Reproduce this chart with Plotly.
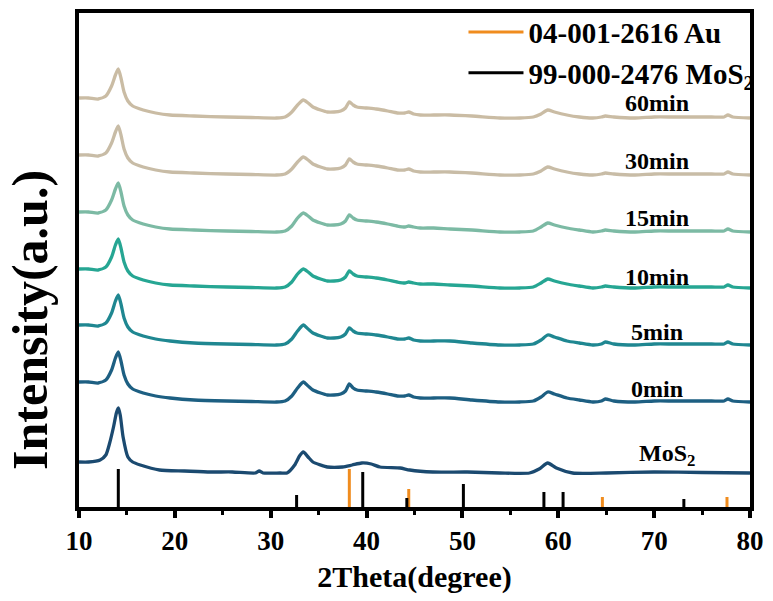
import plotly.graph_objects as go

# 2θ grid for the film samples (degree)
theta_film = [10, 11, 12, 12.8, 13.4, 13.8, 14.1, 14.4, 14.7, 15.1, 15.6, 16.7, 18, 19.5,
              22, 25.4, 28, 30.6, 31.5, 32.2, 32.8, 33.4, 33.9, 34.4, 35.2, 35.9, 36.6,
              37.3, 37.8, 38.2, 38.6, 39.0, 40.0, 41.0, 42.2, 43.2, 44.0, 44.4, 44.9,
              45.6, 47.0, 48.7, 51.0, 53.9, 56.0, 57.4, 58.2, 58.9, 59.6, 60.9, 62.2,
              63.6, 64.5, 64.9, 65.8, 68, 70, 72, 74, 76, 77.3, 77.7, 78.2, 80]

# Intensity above each pattern's own baseline (a.u.)
int_0min = [20, 20, 19, 22, 32, 44, 50, 40, 27, 18, 13, 9, 6, 4,
            2, 1, 0.5, 0, 1, 6, 14, 20, 16, 12, 9, 7, 7,
            8, 11, 18, 14, 12, 11, 10, 8, 6, 6, 7, 5,
            4, 4, 4, 2, 0, 0, 1, 5, 10, 8, 4, 2,
            0, 1, 3, 1, 0, 1, 1, 1, 1, 1, 3, 1, 0]
int_5min = [20, 20, 19, 22, 32, 44, 50, 40, 27, 18, 13, 9, 6, 4,
            2, 1, 0.5, 0, 1, 6, 14, 20, 16, 12, 9, 7, 7,
            8, 11, 17, 14, 12, 11, 10, 8, 6, 6, 7, 5,
            4, 4, 4, 2, 0, 0, 1, 5, 10, 8, 4, 2,
            0, 1, 3, 1, 0, 1, 1, 1, 1, 1, 3, 1, 0]
int_10min = [19, 19, 18, 21, 31, 43, 49, 39, 26, 17, 12, 8, 5, 3,
             2, 1, 0.5, 0, 1, 6, 14, 19, 16, 12, 9, 7, 7,
             8, 11, 17, 14, 12, 11, 10, 8, 6, 5, 6, 5,
             4, 4, 3, 2, 0, 0, 1, 5, 9, 7, 4, 2,
             0, 1, 2, 1, 0, 1, 1, 1, 1, 1, 3, 1, 0]
int_15min = [20, 20, 19, 22, 32, 43, 49, 39, 26, 17, 12, 8, 5, 3,
             2, 1, 0.5, 0, 1, 6, 14, 19, 16, 12, 9, 7, 7,
             8, 11, 17, 14, 12, 11, 10, 8, 6, 5, 6, 5,
             4, 4, 3, 2, 0, 0, 1, 5, 9, 7, 4, 2,
             0, 1, 2, 1, 0, 1, 1, 1, 1, 1, 3, 1, 0]
int_30min = [20, 20, 19, 22, 32, 43, 49, 39, 26, 17, 12, 8, 5, 3,
             2, 1, 0.5, 0, 1, 6, 13, 18, 15, 11, 8, 6, 6,
             7, 10, 16, 13, 11, 10, 9, 7, 5, 5, 6, 4,
             3, 3, 3, 2, 0, 0, 1, 4, 8, 6, 3, 1,
             0, 1, 2, 1, 0, 1, 1, 1, 1, 1, 3, 1, 0]
int_60min = [20, 20, 19, 22, 32, 43, 49, 39, 26, 17, 12, 8, 5, 3,
             2, 1, 0.5, 0, 1, 6, 13, 18, 15, 11, 8, 6, 6,
             7, 10, 16, 13, 11, 10, 9, 7, 5, 5, 6, 4,
             3, 3, 3, 2, 0, 0, 1, 4, 8, 6, 3, 1,
             0, 1, 2, 1, 0, 1, 1, 1, 1, 1, 3, 1, 0]

# 2θ grid and intensity for the bare MoS2 pattern
theta_mos2 = [10, 11, 12.2, 12.8, 13.2, 13.6, 13.9, 14.1, 14.3, 14.6, 15.1, 15.6, 16.4,
              18.4, 21, 23.7, 26, 28.4, 28.8, 29.2, 31, 31.7, 32.5, 33.0, 33.4, 33.9,
              34.4, 35.2, 35.9, 37.5, 38.5, 39.5, 40.5, 41.4, 43.5, 44.5, 46.9, 50.5,
              53.9, 57.0, 58.0, 58.9, 59.8, 61.5, 65, 70, 75, 80]
int_mos2 = [11, 11, 13, 18, 30, 46, 60, 65, 58, 36, 16, 11, 8,
            3, 2, 1, 1, 0, 2, 0, 0, 0, 8, 17, 21, 16,
            11, 8, 6, 6, 8, 10, 9, 6, 5, 3, 1, 1,
            0, 0, 4, 10, 5, 0, 0, 1, 0.5, 0]

# Reference stick patterns
au_pos = [38.2, 44.4, 64.6, 77.6]          # 04-001-2616 Au
au_int = [38, 18, 10, 10]
mos2_ref_pos = [14.1, 32.7, 39.6, 44.2, 50.1, 58.5, 60.5, 73.1]   # 99-000-2476 MoS2
mos2_ref_int = [38, 12, 35, 9, 23, 15, 15, 8]

# Pattern stack, bottom to top
names = ["MoS<sub>2</sub>", "0min", "5min", "10min", "15min", "30min", "60min"]
thetas = [theta_mos2] + [theta_film] * 6
intensities = [int_mos2, int_0min, int_5min, int_10min, int_15min, int_30min, int_60min]
offsets = [34, 105, 162, 219, 275, 332, 389]
colors = ["#1b4a70", "#1d5f82", "#1f8791", "#26a693", "#7cbaa4", "#c8bca6", "#cabca4"]
label_dy = [18, 13, 13, 11, 14, 14, 15]

FONT = "Times New Roman, Liberation Serif, DejaVu Serif, serif"


def sticks(pos, height):
    xs, ys = [], []
    for p, h in zip(pos, height):
        xs += [p, p, None]
        ys += [0, h, None]
    return xs, ys


fig = go.Figure()

ax, ay = sticks(au_pos, au_int)
fig.add_trace(go.Scatter(x=ax, y=ay, mode="lines", name="04-001-2616 Au",
                         line=dict(color="#f08c1e", width=3)))
mx, my = sticks(mos2_ref_pos, mos2_ref_int)
fig.add_trace(go.Scatter(x=mx, y=my, mode="lines", name="99-000-2476 MoS<sub>2</sub>",
                         line=dict(color="black", width=3)))

for name, th, it, off, col, dy in zip(names, thetas, intensities, offsets, colors, label_dy):
    fig.add_trace(go.Scatter(x=th, y=[v + off for v in it], mode="lines",
                             line=dict(color=col, width=3.3, shape="spline", smoothing=0.6),
                             showlegend=False, name=name))
    fig.add_annotation(x=70.3 if name != names[0] else 71.3, y=off + dy,
                       text="<b>" + name + "</b>", showarrow=False, xref="x", yref="y",
                       font=dict(family=FONT, size=24, color="black"))

fig.add_annotation(text="<b>Intensity(a.u.)</b>", textangle=-90, showarrow=False,
                   xref="paper", yref="paper", x=-0.072, y=0.378,
                   xanchor="center", yanchor="middle",
                   font=dict(family=FONT, size=50, color="black"))

fig.update_layout(
    width=773, height=601,
    margin=dict(l=79, r=23, t=13, b=94, autoexpand=False),
    plot_bgcolor="white", paper_bgcolor="white",
    font=dict(family=FONT, color="black"),
    legend=dict(x=0.573, y=1.013, xanchor="left", yanchor="top",
                bgcolor="rgba(0,0,0,0)", borderwidth=0, itemwidth=55,
                font=dict(family=FONT, size=29, color="black", weight="bold"),
                tracegroupgap=0),
    xaxis=dict(range=[10, 80], dtick=10, tick0=10, showgrid=False, zeroline=False,
               showline=True, linecolor="black", linewidth=4, mirror=True,
               ticks="outside", ticklen=7, tickwidth=4, tickcolor="black",
               minor=dict(dtick=5, ticks="outside", ticklen=4, tickwidth=3, tickcolor="black"),
               tickfont=dict(family=FONT, size=27, color="black", weight="bold"),
               title=dict(text="<b>2Theta(degree)</b>", standoff=12,
                          font=dict(family=FONT, size=30, color="black"))),
    yaxis=dict(range=[0, 494], showgrid=False, zeroline=False, showticklabels=False,
               ticks="", showline=True, linecolor="black", linewidth=4, mirror=True),
)

fig.write_html("out.html")
